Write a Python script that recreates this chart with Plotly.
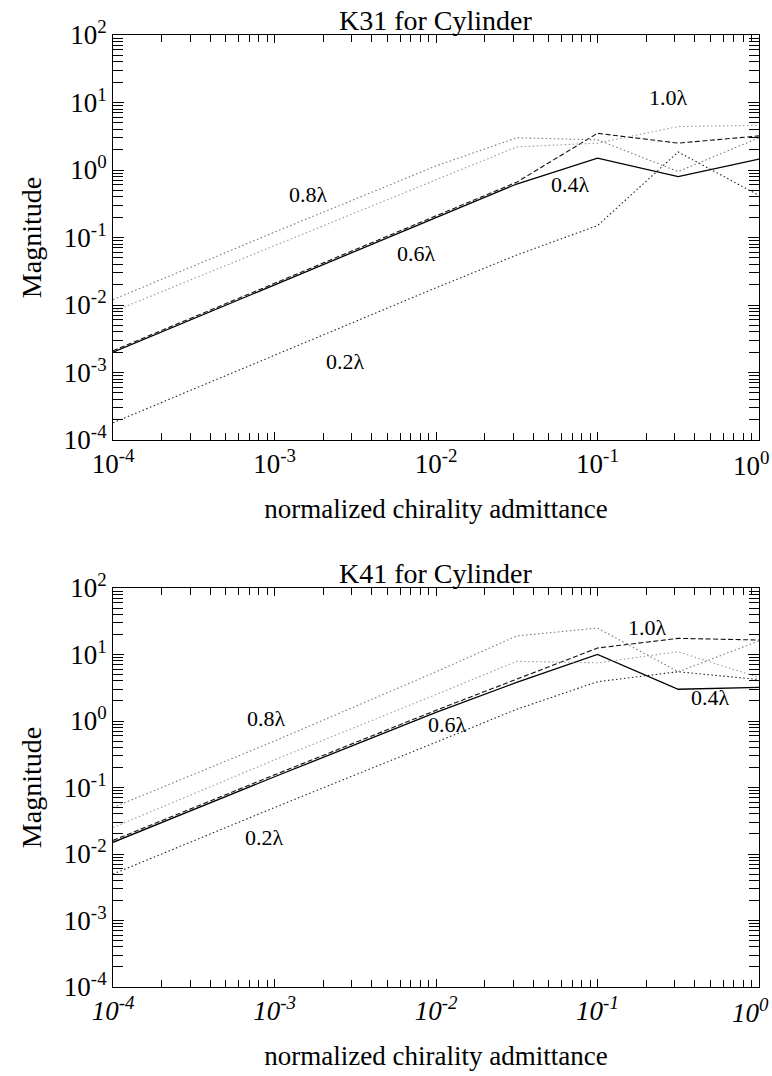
import plotly.graph_objects as go

# ---------------- data ----------------
chirality = [1e-4, 1e-3, 1e-2, 0.0316, 0.1, 0.316, 1.0]
series_names = ["0.2λ", "0.4λ", "0.6λ", "0.8λ", "1.0λ"]

k31_02 = [1.8e-4, 1.8e-3, 0.018, 0.055, 0.15, 1.85, 0.42]
k31_04 = [2.0e-3, 0.020, 0.20, 0.62, 1.5, 0.80, 1.45]
k31_06 = [2.1e-3, 0.021, 0.21, 0.66, 3.5, 2.5, 3.2]
k31_08 = [0.012, 0.12, 1.15, 3.0, 2.8, 0.95, 3.0]
k31_10 = [0.008, 0.075, 0.72, 2.2, 2.5, 4.4, 4.6]

k41_02 = [0.005, 0.05, 0.48, 1.5, 3.9, 5.5, 4.2]
k41_04 = [0.015, 0.145, 1.35, 3.8, 10.0, 3.0, 3.2]
k41_06 = [0.016, 0.155, 1.45, 4.3, 12.5, 17.5, 16.5]
k41_08 = [0.05, 0.5, 5.5, 19.0, 25.0, 5.5, 16.0]
k41_10 = [0.025, 0.26, 2.5, 7.9, 7.5, 11.0, 4.5]

x_tick_vals = [1e-4, 1e-3, 1e-2, 1e-1, 1.0]
x_tick_text = ["10<sup>-4</sup>", "10<sup>-3</sup>", "10<sup>-2</sup>", "10<sup>-1</sup>", "10<sup>0</sup>"]
y_tick_vals = [1e-4, 1e-3, 1e-2, 1e-1, 1.0, 10.0, 100.0]
y_tick_text = ["10<sup>-4</sup>", "10<sup>-3</sup>", "10<sup>-2</sup>", "10<sup>-1</sup>",
               "10<sup>0</sup>", "10<sup>1</sup>", "10<sup>2</sup>"]

# label positions (log10 x, log10 y) per panel
k31_labels = [("0.2λ", -2.56, -2.84), ("0.4λ", -1.17, -0.22), ("0.6λ", -2.12, -1.23),
              ("0.8λ", -2.79, -0.37), ("1.0λ", -0.56, 1.07)]
k41_labels = [("0.2λ", -3.06, -1.75), ("0.4λ", -0.30, 0.36), ("0.6λ", -1.93, -0.06),
              ("0.8λ", -3.05, 0.045), ("1.0λ", -0.69, 1.41)]

# ---------------- styles ----------------
styles = {
    "0.2λ": dict(color="#222222", width=1.1, dash="1.5px,2.5px"),
    "0.4λ": dict(color="#000000", width=1.3, dash="solid"),
    "0.6λ": dict(color="#111111", width=1.1, dash="5px,2.5px"),
    "0.8λ": dict(color="#777777", width=1.1, dash="1.5px,2.5px"),
    "1.0λ": dict(color="#9a9a9a", width=1.1, dash="1.5px,2.5px"),
}

FONT = "Liberation Serif, Times New Roman, Times, serif"
W, H = 772, 1076
L, R, T, B = 113, 13, 35, 89
ph = H - T - B
top_dom = [(987 - 440) / ph, 1.0]
bot_dom = [0.0, (987 - 588) / ph]

fig = go.Figure()

panels = [
    ("x", "y", [k31_02, k31_04, k31_06, k31_08, k31_10]),
    ("x2", "y2", [k41_02, k41_04, k41_06, k41_08, k41_10]),
]
for xa, ya, data in panels:
    for name, vals in zip(series_names, data):
        fig.add_trace(go.Scatter(x=chirality, y=vals, mode="lines", name=name,
                                 line=styles[name], xaxis=xa, yaxis=ya,
                                 showlegend=False))


def fmt(t, italic):
    return f"<i>{t}</i>" if italic else t


def xaxis(anchor, italic):
    # last label (at the right frame edge) is drawn as a right-aligned annotation
    txt = [fmt(t, italic) for t in x_tick_text[:-1]] + [""]
    return dict(type="log", range=[-4.0001, 0.0001], domain=[0, 1], anchor=anchor,
                automargin=False,
                tickmode="array", tickvals=x_tick_vals, ticktext=txt,
                ticks="inside", ticklen=8, tickwidth=1, tickcolor="black",
                minor=dict(ticks="inside", dtick="D1", ticklen=7, tickwidth=1,
                           tickcolor="black", showgrid=False),
                showline=True, linecolor="black", linewidth=1, mirror="allticks",
                showgrid=False, zeroline=False,
                tickfont=dict(family=FONT, size=27, color="black"),
                title=dict(text="normalized chirality admittance",
                           font=dict(family=FONT, size=27, color="black"), standoff=20))


def yaxis(dom, anchor):
    return dict(type="log", range=[-4.0001, 2.0001], domain=dom, anchor=anchor,
                automargin=False,
                tickmode="array", tickvals=y_tick_vals, ticktext=y_tick_text,
                ticks="inside", ticklen=11, tickwidth=1, tickcolor="black",
                minor=dict(ticks="inside", dtick="D1", ticklen=10, tickwidth=1,
                           tickcolor="black", showgrid=False),
                showline=True, linecolor="black", linewidth=1, mirror="allticks",
                showgrid=False, zeroline=False,
                tickfont=dict(family=FONT, size=27, color="black"),
                title=dict(text="Magnitude", font=dict(family=FONT, size=28, color="black"),
                           standoff=14))


annotations = []
for ax_x, ax_y, labels in [("x", "y", k31_labels), ("x2", "y2", k41_labels)]:
    for txt, lx, ly in labels:
        annotations.append(dict(text=txt, x=lx, y=ly, xref=ax_x, yref=ax_y,
                                showarrow=False,
                                font=dict(family=FONT, size=22, color="black")))

# right-most x tick label, kept inside the page
for ax_x, ax_y, italic in [("x", "y", False), ("x2", "y2", True)]:
    annotations.append(dict(text=fmt(x_tick_text[-1], italic), x=0, y=0,
                            xref=ax_x, yref=f"{ax_y} domain",
                            xanchor="right", yanchor="top", xshift=12, yshift=-5,
                            showarrow=False,
                            font=dict(family=FONT, size=27, color="black")))

annotations.append(dict(text="K31 for Cylinder", x=0.5, y=top_dom[1], xref="paper",
                        yref="paper", yanchor="bottom", yshift=-3, showarrow=False,
                        font=dict(family=FONT, size=28, color="black")))
annotations.append(dict(text="K41 for Cylinder", x=0.5, y=bot_dom[1], xref="paper",
                        yref="paper", yanchor="bottom", yshift=-3, showarrow=False,
                        font=dict(family=FONT, size=28, color="black")))

fig.update_layout(
    width=W, height=H,
    margin=dict(l=L, r=R, t=T, b=B, autoexpand=False),
    paper_bgcolor="white", plot_bgcolor="white",
    xaxis=xaxis("y", False),
    yaxis=yaxis(top_dom, "x"),
    xaxis2=xaxis("y2", True),
    yaxis2=yaxis(bot_dom, "x2"),
    annotations=annotations,
    showlegend=False,
)

fig.write_html("out.html")
